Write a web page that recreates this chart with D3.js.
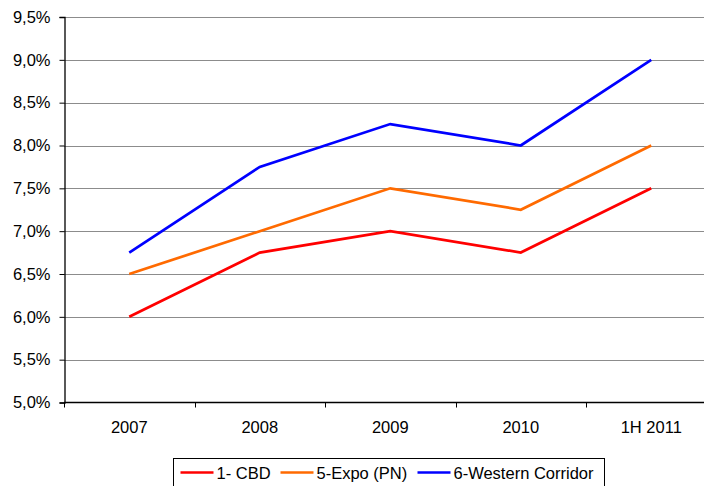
<!DOCTYPE html>
<html>
<head>
<meta charset="utf-8">
<script src="https://cdn.jsdelivr.net/npm/d3@7"></script>
<style>
  html, body { margin: 0; padding: 0; background: #fff; overflow: hidden; }
  svg { display: block; font-family: Arial, "Liberation Sans", sans-serif; }
</style>
</head>
<body>
<svg id="chart" width="704" height="486"></svg>
<script>
// data
const categories = ["2007", "2008", "2009", "2010", "1H 2011"];
const cbd = [6.0, 6.75, 7.0, 6.75, 7.5];
const expo = [6.5, 7.0, 7.5, 7.25, 8.0];
const western = [6.75, 7.75, 8.25, 8.0, 9.0];
const yTicks = [5.0, 5.5, 6.0, 6.5, 7.0, 7.5, 8.0, 8.5, 9.0, 9.5];

const series = [
  { name: "1- CBD", color: "#ff0000", values: cbd },
  { name: "5-Expo (PN)", color: "#ff6a00", values: expo },
  { name: "6-Western Corridor", color: "#0000ff", values: western }
];

const svg = d3.select("#chart");
const plotLeft = 64, plotTop = 17, plotBottom = 402.5, plotRight = 716.5;
const fontSize = 16.5;

const x = d3.scaleBand().domain(categories).range([plotLeft, plotRight]);
const y = d3.scaleLinear().domain([5, 9.5]).range([plotBottom, plotTop]);

const fmt = v => v.toFixed(1).replace(".", ",") + "%";

// gridlines
svg.append("g")
  .selectAll("line")
  .data(yTicks.slice(1))
  .join("line")
  .attr("x1", plotLeft).attr("x2", 704)
  .attr("y1", d => Math.round(y(d)) + 0.5)
  .attr("y2", d => Math.round(y(d)) + 0.5)
  .attr("stroke", "#8c8c8c")
  .attr("stroke-width", 1);

// y axis
const yAxis = svg.append("g")
  .attr("transform", `translate(${plotLeft + 0.5},0)`)
  .call(d3.axisLeft(y).tickValues(yTicks).tickFormat(fmt).tickSize(5).tickPadding(9));
yAxis.select(".domain").attr("stroke", "#000").attr("stroke-width", 1.3);
yAxis.selectAll(".tick line").attr("stroke", "#000");
yAxis.selectAll("text").attr("font-size", fontSize).attr("fill", "#000")
  .attr("font-family", "Arial, 'Liberation Sans', sans-serif");

// x axis with ticks between categories
const xAxis = svg.append("g")
  .attr("transform", `translate(0,${plotBottom})`);
xAxis.append("line")
  .attr("x1", plotLeft).attr("x2", 704)
  .attr("stroke", "#000").attr("stroke-width", 1.3);
xAxis.selectAll(".sep")
  .data(categories)
  .join("line")
  .attr("class", "sep")
  .attr("x1", d => Math.round(x(d)) + 0.5)
  .attr("x2", d => Math.round(x(d)) + 0.5)
  .attr("y1", 0).attr("y2", 5)
  .attr("stroke", "#000");
xAxis.selectAll("text")
  .data(categories)
  .join("text")
  .attr("x", d => x(d) + x.bandwidth() / 2)
  .attr("y", 30.5)
  .attr("text-anchor", "middle")
  .attr("font-size", fontSize)
  .text(d => d);

// lines
const line = d3.line()
  .x((d, i) => x(categories[i]) + x.bandwidth() / 2)
  .y(d => y(d));

svg.append("g")
  .selectAll("path")
  .data(series)
  .join("path")
  .attr("fill", "none")
  .attr("stroke", d => d.color)
  .attr("stroke-width", 2.7)
  .attr("d", d => line(d.values));

// legend
const leg = svg.append("g").attr("transform", "translate(173.5,458.5)");
leg.append("rect")
  .attr("width", 431).attr("height", 40)
  .attr("fill", "#fff").attr("stroke", "#000").attr("stroke-width", 1);

const legX = [7, 107, 244];
series.forEach((s, i) => {
  const g = leg.append("g").attr("transform", `translate(${legX[i]},14)`);
  g.append("line")
    .attr("x1", 0).attr("x2", 33)
    .attr("stroke", s.color).attr("stroke-width", 2.7);
  g.append("text")
    .attr("x", 36).attr("y", 6)
    .attr("font-size", fontSize)
    .text(s.name);
});
</script>
</body>
</html>
